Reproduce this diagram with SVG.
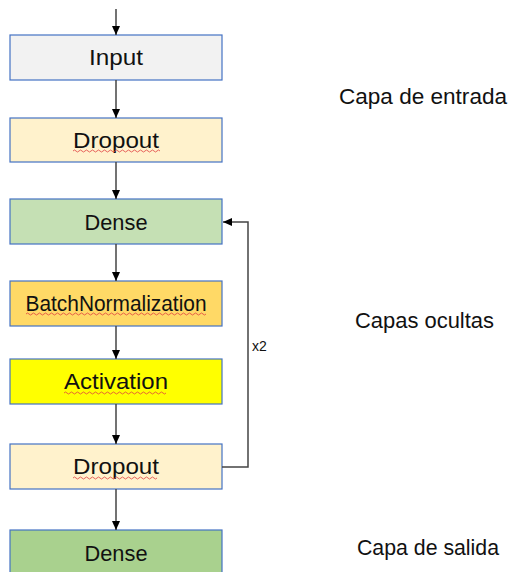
<svg xmlns="http://www.w3.org/2000/svg" width="512" height="572" viewBox="0 0 512 572">
<style>
.box{stroke:#4472c4;stroke-width:1.2}
.t{font-family:"Liberation Sans",Arial,sans-serif;font-size:22px;fill:#111;text-anchor:middle}
.lbl{font-family:"Liberation Sans",Arial,sans-serif;font-size:22px;fill:#111}
.c{stroke:#444;stroke-width:1.5;fill:none}
.sq{stroke:#e04040;stroke-width:0.8;fill:none}
</style>
<defs>
<marker id="ah" markerWidth="10" markerHeight="10" refX="9" refY="5" orient="auto" markerUnits="userSpaceOnUse">
<path d="M0,1 L9,5 L0,9 Z" fill="#000"/>
</marker>
</defs>
<rect width="512" height="572" fill="#fff"/>
<g id="input"><rect class="box" x="10" y="35" width="212" height="45" fill="#f2f2f2"/><text class="t" x="116" y="65" textLength="54" lengthAdjust="spacingAndGlyphs">Input</text></g>
<g id="dropout1"><rect class="box" x="10" y="118" width="212" height="44" fill="#fff2cc"/><text class="t" x="116" y="148" textLength="86" lengthAdjust="spacingAndGlyphs">Dropout</text>
<path class="sq" d="M73,151 q1.5,-2 3,0 t3,0 t3,0 t3,0 t3,0 t3,0 t3,0 t3,0 t3,0 t3,0 t3,0 t3,0 t3,0 t3,0 t3,0 t3,0 t3,0 t3,0 t3,0 t3,0 t3,0 t3,0 t3,0 t3,0 t3,0 t3,0 t3,0 t3,0 t3,0"/></g>
<g id="dense1"><rect class="box" x="10" y="199" width="212" height="45" fill="#c5e0b4"/><text class="t" x="116" y="230" textLength="63" lengthAdjust="spacingAndGlyphs">Dense</text></g>
<g id="batchnorm"><rect class="box" x="10" y="281" width="212" height="45" fill="#ffd966"/><text class="t" x="116" y="311" textLength="181" lengthAdjust="spacingAndGlyphs">BatchNormalization</text>
<path class="sq" d="M26,314 q1.5,-2 3,0 t3,0 t3,0 t3,0 t3,0 t3,0 t3,0 t3,0 t3,0 t3,0 t3,0 t3,0 t3,0 t3,0 t3,0 t3,0 t3,0 t3,0 t3,0 t3,0 t3,0 t3,0 t3,0 t3,0 t3,0 t3,0 t3,0 t3,0 t3,0 t3,0 t3,0 t3,0 t3,0 t3,0 t3,0 t3,0 t3,0 t3,0 t3,0 t3,0 t3,0 t3,0 t3,0 t3,0 t3,0 t3,0 t3,0 t3,0 t3,0 t3,0 t3,0 t3,0 t3,0 t3,0 t3,0 t3,0 t3,0 t3,0 t3,0 t3,0"/></g>
<g id="activation"><rect class="box" x="10" y="359" width="212" height="45" fill="#ffff00"/><text class="t" x="116" y="389" textLength="104" lengthAdjust="spacingAndGlyphs">Activation</text>
<path class="sq" d="M64,393 q1.5,-2 3,0 t3,0 t3,0 t3,0 t3,0 t3,0 t3,0 t3,0 t3,0 t3,0 t3,0 t3,0 t3,0 t3,0 t3,0 t3,0 t3,0 t3,0 t3,0 t3,0 t3,0 t3,0 t3,0 t3,0 t3,0 t3,0 t3,0 t3,0 t3,0 t3,0 t3,0 t3,0 t3,0 t3,0"/></g>
<g id="dropout2"><rect class="box" x="10" y="444" width="212" height="45" fill="#fff2cc"/><text class="t" x="116" y="474" textLength="86" lengthAdjust="spacingAndGlyphs">Dropout</text>
<path class="sq" d="M73,478 q1.5,-2 3,0 t3,0 t3,0 t3,0 t3,0 t3,0 t3,0 t3,0 t3,0 t3,0 t3,0 t3,0 t3,0 t3,0 t3,0 t3,0 t3,0 t3,0 t3,0 t3,0 t3,0 t3,0 t3,0 t3,0 t3,0 t3,0 t3,0 t3,0"/></g>
<g id="dense2"><rect class="box" x="10" y="530" width="212" height="50" fill="#a9d18e"/><text class="t" x="116" y="561" textLength="63" lengthAdjust="spacingAndGlyphs">Dense</text></g>
<g id="connectors">
<line class="c" x1="116" y1="9" x2="116" y2="35" marker-end="url(#ah)"/>
<line class="c" x1="116" y1="80" x2="116" y2="118" marker-end="url(#ah)"/>
<line class="c" x1="116" y1="162" x2="116" y2="199" marker-end="url(#ah)"/>
<line class="c" x1="116" y1="244" x2="116" y2="281" marker-end="url(#ah)"/>
<line class="c" x1="116" y1="326" x2="116" y2="359" marker-end="url(#ah)"/>
<line class="c" x1="116" y1="404" x2="116" y2="444" marker-end="url(#ah)"/>
<line class="c" x1="116" y1="489" x2="116" y2="530" marker-end="url(#ah)"/>
<polyline class="c" points="222,467 248,467 248,222 223,222" marker-end="url(#ah)"/>
<text x="252" y="351" font-family="'Liberation Sans',Arial,sans-serif" font-size="14" fill="#111">x2</text>
</g>
<text class="lbl" x="339" y="104" textLength="168" lengthAdjust="spacingAndGlyphs">Capa de entrada</text>
<text class="lbl" x="355" y="328" textLength="139" lengthAdjust="spacingAndGlyphs">Capas ocultas</text>
<text class="lbl" x="357" y="555" textLength="142" lengthAdjust="spacingAndGlyphs">Capa de salida</text>
</svg>
